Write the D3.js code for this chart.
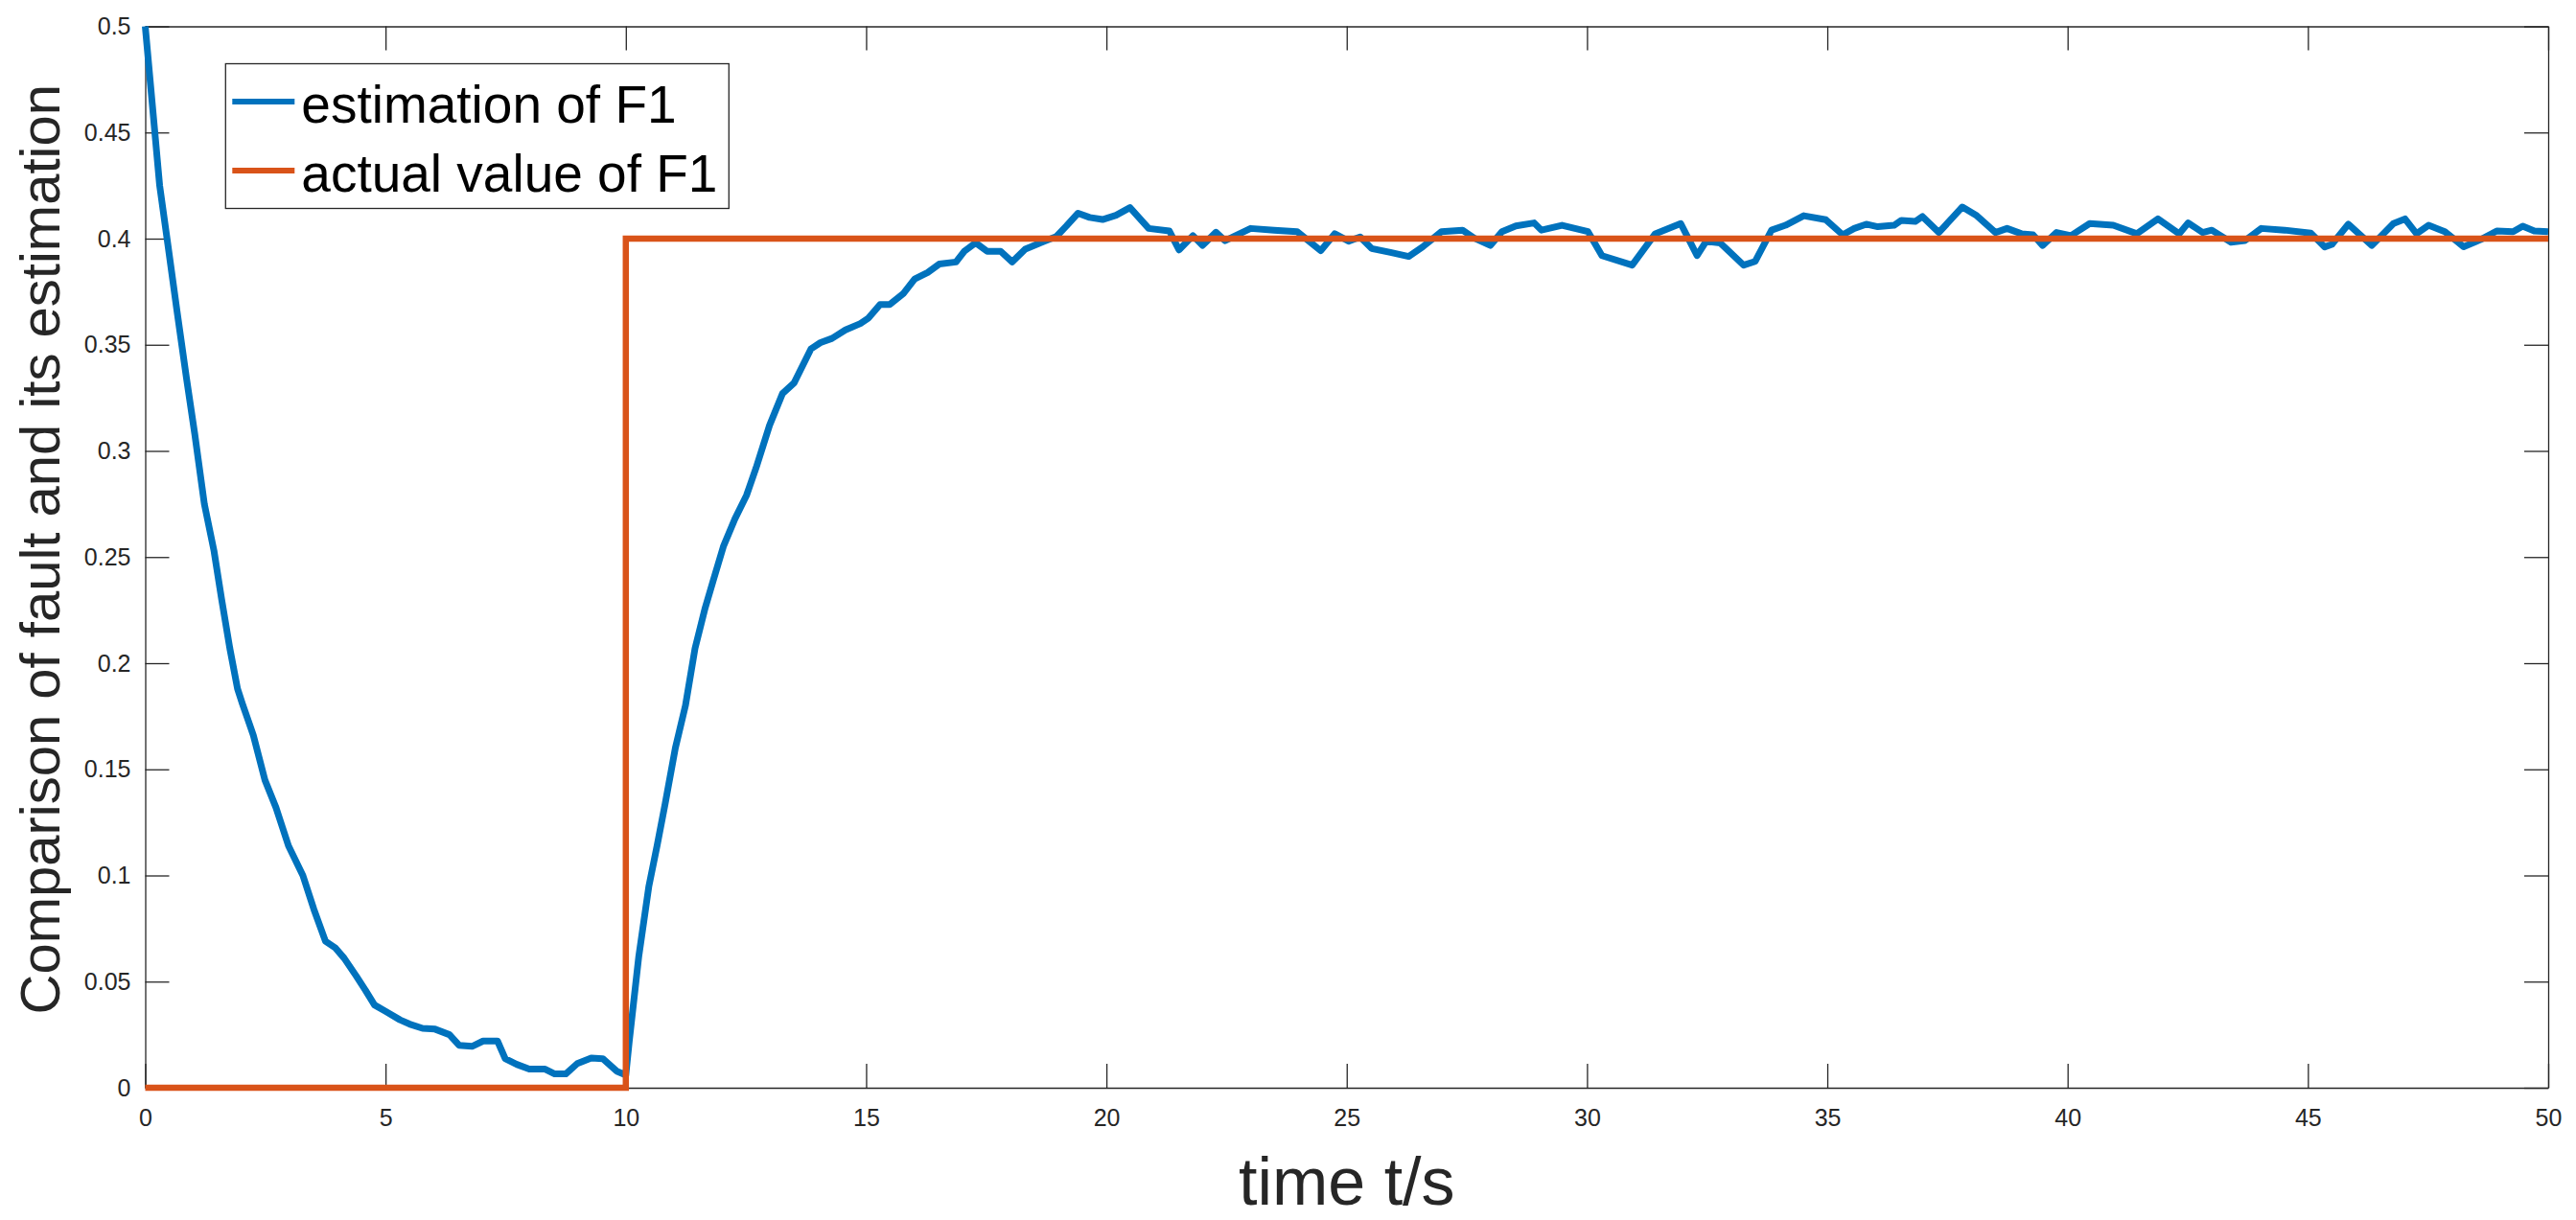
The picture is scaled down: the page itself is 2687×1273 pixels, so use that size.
<!DOCTYPE html>
<html>
<head>
<meta charset="utf-8">
<script src="https://cdn.jsdelivr.net/npm/d3@7"></script>
<style>
  body { margin: 0; background: #fff; }
  text { font-family: "Liberation Sans", Arial, Helvetica, sans-serif; }
</style>
</head>
<body>
<div id="chart"></div>
<script>
// estimation of F1 (blue)
var estTime = [0, 0.3, 0.46, 0.66, 0.86, 1.03, 1.23, 1.43, 1.59, 1.76, 1.92, 2.02, 2.25, 2.49, 2.72, 2.98,
    3.28, 3.51, 3.75, 3.95, 4.14, 4.38, 4.58, 4.77, 5.0, 5.3, 5.5, 5.77, 6.03, 6.33, 6.53, 6.8, 7.03, 7.33,
    7.49, 7.73, 7.99, 8.32, 8.52, 8.75, 8.99, 9.28, 9.52, 9.81, 10.0, 10.07, 10.27, 10.48, 10.65, 10.82,
    11.03, 11.24, 11.44, 11.65, 11.82, 12.03, 12.27, 12.51, 12.71, 12.99, 13.26, 13.5, 13.85, 14.05, 14.29,
    14.57, 14.88, 15.05, 15.29, 15.49, 15.77, 16.01, 16.28, 16.52, 16.87, 17.04, 17.28, 17.52, 17.8, 18.04,
    18.31, 18.62, 18.96, 19.17, 19.41, 19.65, 19.92, 20.2, 20.49, 20.88, 21.31, 21.51, 21.8, 22.0, 22.28,
    22.47, 23.0, 23.49, 23.97, 24.46, 24.75, 25.04, 25.28, 25.52, 25.91, 26.29, 26.58, 26.97, 27.41, 27.65,
    27.99, 28.23, 28.52, 28.9, 29.05, 29.48, 30.02, 30.31, 30.94, 31.42, 31.95, 32.29, 32.48, 32.77, 33.26,
    33.5, 33.84, 34.13, 34.51, 34.97, 35.32, 35.56, 35.81, 36.05, 36.39, 36.54, 36.83, 36.98, 37.32, 37.81,
    38.11, 38.5, 38.74, 39.04, 39.28, 39.48, 39.77, 40.07, 40.46, 40.95, 41.44, 41.88, 42.32, 42.51, 42.81,
    43.0, 43.4, 43.69, 44.03, 44.52, 45.06, 45.35, 45.5, 45.84, 46.33, 46.78, 47.02, 47.26, 47.51, 47.85,
    48.24, 48.59, 48.93, 49.27, 49.47, 49.71, 50.0];
var estValue = [0.5, 0.425, 0.399, 0.366, 0.334, 0.308, 0.275, 0.253, 0.23, 0.207, 0.188, 0.181, 0.166, 0.145,
    0.132, 0.114, 0.1, 0.084, 0.069, 0.066, 0.061, 0.053, 0.046, 0.039, 0.036, 0.032, 0.03, 0.028, 0.0276,
    0.025, 0.02, 0.0195, 0.022, 0.022, 0.0137, 0.011, 0.0088, 0.0088, 0.0065, 0.0065, 0.0114, 0.014, 0.0137,
    0.0078, 0.006, 0.0216, 0.062, 0.095, 0.114, 0.134, 0.16, 0.18, 0.207, 0.226, 0.239, 0.255, 0.268, 0.279,
    0.292, 0.312, 0.327, 0.332, 0.348, 0.351, 0.353, 0.357, 0.36, 0.3626, 0.369, 0.369, 0.374, 0.381, 0.384,
    0.388, 0.389, 0.394, 0.398, 0.394, 0.394, 0.389, 0.395, 0.398, 0.401, 0.406, 0.412, 0.41, 0.409, 0.411,
    0.4146, 0.4048, 0.4036, 0.3947, 0.4014, 0.3968, 0.403, 0.399, 0.4048, 0.404, 0.4033, 0.3943, 0.4023,
    0.3988, 0.4008, 0.3953, 0.3935, 0.3916, 0.3961, 0.4033, 0.404, 0.4003, 0.3968, 0.4033, 0.406, 0.4074,
    0.404, 0.4063, 0.4033, 0.392, 0.3875, 0.4023, 0.4071, 0.392, 0.3988, 0.398, 0.3875, 0.3893, 0.404,
    0.4063, 0.4108, 0.4089, 0.4018, 0.4048, 0.4068, 0.4056, 0.4063, 0.4086, 0.4081, 0.4104, 0.4029, 0.4149,
    0.4108, 0.4029, 0.4048, 0.4023, 0.4018, 0.3968, 0.4029, 0.4014, 0.4071, 0.4063, 0.4023, 0.4093, 0.4023,
    0.4074, 0.4029, 0.404, 0.3983, 0.3991, 0.4048, 0.404, 0.4026, 0.3961, 0.3973, 0.4068, 0.3968, 0.4071,
    0.4093, 0.4023, 0.4063, 0.4033, 0.3962, 0.3995, 0.4036, 0.4033, 0.4059, 0.4036, 0.4033];

// actual value of F1 (orange step)
var actualTime = [0, 10, 10, 50];
var actualValue = [0, 0, 0.4, 0.4];

var xTicks = [0, 5, 10, 15, 20, 25, 30, 35, 40, 45, 50];
var yTicks = [0, 0.05, 0.1, 0.15, 0.2, 0.25, 0.3, 0.35, 0.4, 0.45, 0.5];
var yTickLabels = ["0", "0.05", "0.1", "0.15", "0.2", "0.25", "0.3", "0.35", "0.4", "0.45", "0.5"];
var seriesNames = ["estimation of F1", "actual value of F1"];
var seriesColors = ["#0072BD", "#D95319"];

var W = 2687, H = 1273;
var margin = { top: 27.5, right: 29, bottom: 138, left: 151.5 },
    width = W - margin.left - margin.right,
    height = H - margin.top - margin.bottom;

var svg = d3
    .select("#chart")
    .append("svg")
    .attr("width", W)
    .attr("height", H)
    .append("g")
    .attr("transform", "translate(" + margin.left + "," + margin.top + ")");

var x = d3.scaleLinear().domain([0, 50]).range([0, width]);
var y = d3.scaleLinear().domain([0, 0.5]).range([height, 0]);

var axisColor = "#262626";

function styleAxis(g) {
    g.select(".domain").attr("stroke", axisColor).attr("stroke-width", 1.3);
    g.selectAll(".tick line").attr("stroke", axisColor).attr("stroke-width", 1.3);
    g.selectAll(".tick text")
        .attr("fill", axisColor)
        .style("font-size", "25px");
}

svg.append("g")
    .attr("transform", "translate(0," + height + ")")
    .call(d3.axisBottom(x).tickValues(xTicks).tickSize(-25).tickSizeOuter(0).tickPadding(22))
    .call(styleAxis);

svg.append("g")
    .call(d3.axisTop(x).tickValues(xTicks).tickSize(-25).tickSizeOuter(0).tickFormat(""))
    .call(styleAxis);

svg.append("g")
    .call(
        d3.axisLeft(y).tickValues(yTicks).tickSize(-25).tickSizeOuter(0).tickPadding(15)
            .tickFormat(function (d, i) { return yTickLabels[i]; })
    )
    .call(styleAxis);

svg.append("g")
    .attr("transform", "translate(" + width + ",0)")
    .call(d3.axisRight(y).tickValues(yTicks).tickSize(-25).tickSizeOuter(0).tickFormat(""))
    .call(styleAxis);

var line = d3
    .line()
    .x(function (d) { return x(d[0]); })
    .y(function (d) { return y(d[1]); });

var estData = estTime.map(function (t, i) { return [t, estValue[i]]; });
var actualData = actualTime.map(function (t, i) { return [t, actualValue[i]]; });

svg.append("path")
    .datum(estData)
    .attr("d", line)
    .attr("fill", "none")
    .attr("stroke", seriesColors[0])
    .attr("stroke-width", 7)
    .attr("stroke-linejoin", "round");

svg.append("path")
    .datum(actualData)
    .attr("d", line)
    .attr("fill", "none")
    .attr("stroke", seriesColors[1])
    .attr("stroke-width", 6.5)
    .attr("stroke-linejoin", "miter");

// axis titles
svg.append("text")
    .attr("text-anchor", "middle")
    .attr("x", width / 2)
    .attr("y", height + 122)
    .attr("fill", axisColor)
    .style("font-size", "70px")
    .text("time t/s");

svg.append("text")
    .attr("text-anchor", "middle")
    .attr("transform", "translate(" + (62 - margin.left) + "," + (height / 2 - 8) + ") rotate(-90)")
    .attr("fill", axisColor)
    .style("font-size", "58px")
    .text("Comparison of fault and its estimation");

// legend
var legend = svg.append("g").attr("transform", "translate(" + (235.3 - margin.left) + "," + (66.5 - margin.top) + ")");

legend.append("rect")
    .attr("width", 525)
    .attr("height", 151)
    .attr("fill", "#fff")
    .attr("stroke", axisColor)
    .attr("stroke-width", 1.3);

seriesNames.forEach(function (name, i) {
    var ly = 39.5 + i * 72;
    legend.append("line")
        .attr("x1", 7)
        .attr("x2", 72)
        .attr("y1", ly)
        .attr("y2", ly)
        .attr("stroke", seriesColors[i])
        .attr("stroke-width", 6);
    legend.append("text")
        .attr("x", 79)
        .attr("y", ly + 22)
        .attr("fill", "#000")
        .style("font-size", "55px")
        .text(name);
});
</script>
</body>
</html>
